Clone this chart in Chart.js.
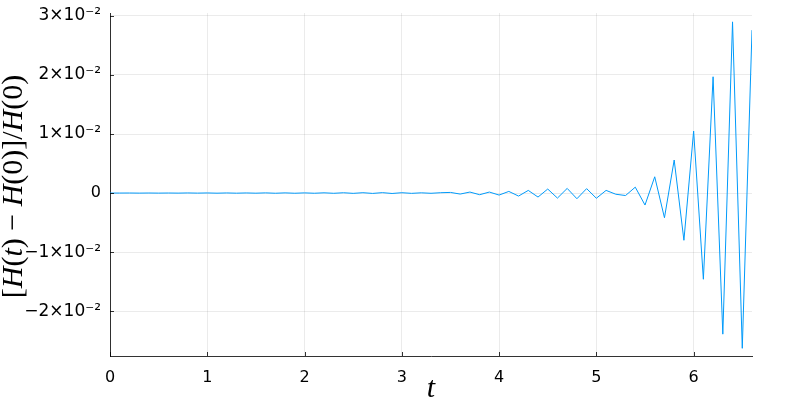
<!DOCTYPE html>
<html>
<head>
<meta charset="utf-8">
<script src="https://cdn.jsdelivr.net/npm/chart.js@4.4.1/dist/chart.umd.min.js"></script>
<style>
  html, body { margin: 0; padding: 0; background: #fff; }
</style>
</head>
<body>
<canvas id="energyChart" width="800" height="400"></canvas>
<script>
// time samples and relative energy error
const tValues = [
  0.0, 0.1, 0.2, 0.3, 0.4, 0.5, 0.6, 0.7, 0.8, 0.9,
  1.0, 1.1, 1.2, 1.3, 1.4, 1.5, 1.6, 1.7, 1.8, 1.9,
  2.0, 2.1, 2.2, 2.3, 2.4, 2.5, 2.6, 2.7, 2.8, 2.9,
  3.0, 3.1, 3.2, 3.3, 3.4, 3.5, 3.6, 3.7, 3.8, 3.9,
  4.0, 4.1, 4.2, 4.3, 4.4, 4.5, 4.6, 4.7, 4.8, 4.9,
  5.0, 5.1, 5.2, 5.3, 5.4, 5.5, 5.6, 5.7, 5.8, 5.9,
  6.0, 6.1, 6.2, 6.3, 6.4, 6.5, 6.6
];
const relErr = [
  0, 0, 0.00001, -0.00001, 0.00001, -0.00001, 0.00001, -0.00001, 0.00002, -0.00001,
  0.00002, -0.00002, 0.00002, -0.00002, 0.00002, -0.00002, 0.00003, -0.00003, 0.00003, -0.00003,
  0.00003, -0.00003, 0.00004, -0.00004, 0.00005, -0.00005, 0.00006, -0.00006, 0.00007, -0.00007,
  0.00006, -0.00005, 0.00004, -0.00004, 0.00006, 0.00011, -0.00017, 0.00017, -0.00028, 0.00017,
  -0.00034, 0.00028, -0.00051, 0.00045, -0.00068, 0.00068, -0.00085, 0.00079, -0.00096, 0.00075,
  -0.00088, 0.00045, -0.0002, -0.00042, 0.001, -0.00203, 0.00276, -0.00418, 0.0056, -0.008,
  0.0105, -0.0146, 0.0197, -0.0239, 0.029, -0.0263, 0.0276
];
const xTicks = [0, 1, 2, 3, 4, 5, 6];
const yTicks = [-0.02, -0.01, 0, 0.01, 0.02, 0.03];
const yTickLabels = ["\u22122\u00d710\u207b\u00b2", "\u22121\u00d710\u207b\u00b2", "0",
                     "1\u00d710\u207b\u00b2", "2\u00d710\u207b\u00b2", "3\u00d710\u207b\u00b2"];

const points = tValues.map((t, i) => ({ x: t, y: relErr[i] }));

// Plots.jl style ticks pointing into the plot area
const innerTicks = {
  id: "innerTicks",
  afterDraw(chart) {
    const ctx = chart.ctx, a = chart.chartArea;
    const xs = chart.scales.x, ys = chart.scales.y;
    ctx.save();
    ctx.strokeStyle = "rgba(0,0,0,0.8)";
    ctx.lineWidth = 1;
    ctx.beginPath();
    xTicks.forEach(v => {
      const px = Math.round(xs.getPixelForValue(v)) + 0.5;
      ctx.moveTo(px, a.bottom);
      ctx.lineTo(px, a.bottom - 4);
    });
    yTicks.forEach(v => {
      const py = Math.round(ys.getPixelForValue(v)) + 0.5;
      ctx.moveTo(a.left, py);
      ctx.lineTo(a.left + 4, py);
    });
    ctx.stroke();
    ctx.restore();
  }
};

// LaTeX-like axis titles with mixed italic
const axisTitles = {
  id: "axisTitles",
  afterDraw(chart) {
    const ctx = chart.ctx, a = chart.chartArea;
    const size = 30;
    const upright = size + 'px "Liberation Serif"';
    const italic = 'italic ' + size + 'px "Liberation Serif"';
    ctx.save();
    ctx.fillStyle = "#000";
    ctx.textBaseline = "alphabetic";

    ctx.font = italic;
    ctx.textAlign = "center";
    ctx.fillText("t", (a.left + a.right) / 2, 397);

    const parts = [
      ["[", upright], ["H", italic], ["(", upright], ["t", italic], [") \u2212 ", upright],
      ["H", italic], ["(0)]/", upright], ["H", italic], ["(0)", upright]
    ];
    let total = 0;
    parts.forEach(p => { ctx.font = p[1]; total += ctx.measureText(p[0]).width; });
    ctx.translate(22, (a.top + a.bottom) / 2 + 2);
    ctx.rotate(-Math.PI / 2);
    ctx.textAlign = "left";
    let x = -total / 2;
    parts.forEach(p => {
      ctx.font = p[1];
      ctx.fillText(p[0], x, 0);
      x += ctx.measureText(p[0]).width;
    });
    ctx.restore();
  }
};

const ctx = document.getElementById("energyChart").getContext("2d");
new Chart(ctx, {
  type: "line",
  data: {
    datasets: [{
      data: points,
      borderColor: "#009AFA",
      borderWidth: 1,
      pointRadius: 0,
      tension: 0,
      fill: false
    }]
  },
  options: {
    responsive: false,
    animation: false,
    devicePixelRatio: 1,
    layout: { padding: { top: 13, right: 48, left: 0, bottom: 0 } },
    plugins: { legend: { display: false }, tooltip: { enabled: false } },
    scales: {
      x: {
        type: "linear",
        min: 0,
        max: 6.6,
        afterBuildTicks: s => { s.ticks = xTicks.map(v => ({ value: v })); },
        afterFit: s => { s.height = 44; s.paddingLeft = 0; s.paddingRight = 0; },
        grid: { color: "rgba(0,0,0,0.08)", lineWidth: 1, drawTicks: false },
        border: { display: true, color: "rgba(0,0,0,0.8)", width: 1 },
        ticks: {
          padding: 12,
          color: "#000",
          maxRotation: 0,
          font: { family: "DejaVu Sans", size: 16 },
          callback: v => String(v)
        }
      },
      y: {
        type: "linear",
        min: -0.0276,
        max: 0.0305,
        afterBuildTicks: s => { s.ticks = yTicks.map(v => ({ value: v })); },
        afterFit: s => { s.width = 110; s.paddingTop = 0; s.paddingBottom = 0; },
        grid: { color: "rgba(0,0,0,0.08)", lineWidth: 1, drawTicks: false },
        border: { display: true, color: "rgba(0,0,0,0.8)", width: 1 },
        ticks: {
          padding: 9,
          color: "#000",
          font: c => ({ family: "DejaVu Sans", size: (c.tick && c.tick.value === 0) ? 16 : 17 }),
          callback: v => {
            const i = yTicks.findIndex(t => Math.abs(t - v) < 1e-9);
            return i >= 0 ? yTickLabels[i] : "";
          }
        }
      }
    }
  },
  plugins: [innerTicks, axisTitles]
});
</script>
</body>
</html>
